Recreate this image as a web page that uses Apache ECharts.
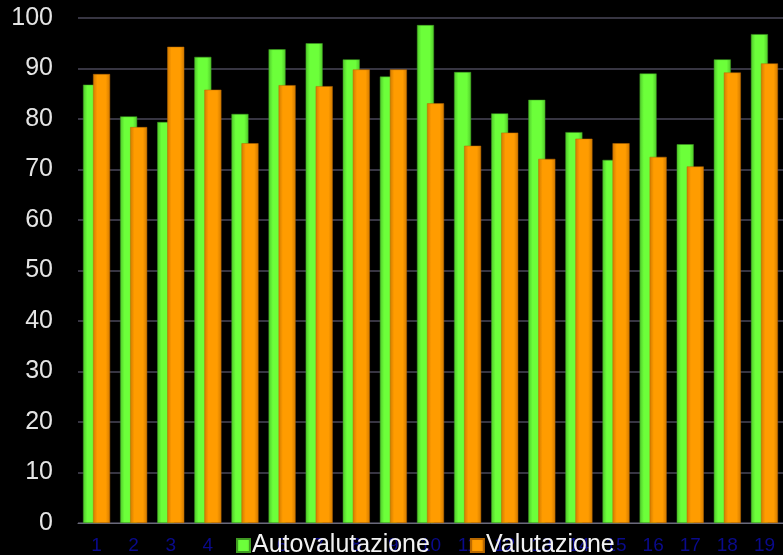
<!DOCTYPE html>
<html>
<head>
<meta charset="UTF-8">
<script src="https://cdn.jsdelivr.net/npm/echarts@6/dist/echarts.min.js"></script>
<style>
  html, body { margin: 0; padding: 0; background: #000; }
  #chart { width: 783px; height: 555px; }
</style>
</head>
<body>
<div id="chart"></div>
<script>
  // dati
  const categories = ['1','2','3','4','5','6','7','8','9','10','11','12','13','14','15','16','17','18','19'];
  const autovalutazione = [86.8, 80.5, 79.4, 92.3, 81.0, 93.8, 95.0, 91.8, 88.4, 98.6, 89.3, 81.1, 83.8, 77.4, 71.9, 89.0, 75.0, 91.8, 96.8];
  const valutazione = [88.9, 78.4, 94.3, 85.8, 75.2, 86.7, 86.5, 89.8, 89.8, 83.1, 74.7, 77.3, 72.1, 76.1, 75.2, 72.5, 70.6, 89.2, 91.0];
  const seriesNames = ['Autovalutazione', 'Valutazione'];

  function grad(edge, mid) {
    return new echarts.graphic.LinearGradient(0, 0, 1, 0, [
      { offset: 0, color: edge },
      { offset: 0.25, color: mid },
      { offset: 0.75, color: mid },
      { offset: 1, color: edge }
    ]);
  }

  const chart = echarts.init(document.getElementById('chart'));
  chart.setOption({
    backgroundColor: '#000',
    animation: false,
    textStyle: { fontFamily: 'Liberation Sans, Arial, sans-serif' },
    grid: { left: 78, right: -9, top: 18, bottom: 32 },
    legend: {
      data: seriesNames,
      left: 231,
      top: 528,
      itemWidth: 13,
      itemHeight: 13,
      itemGap: 40,
      icon: 'rect',
      textStyle: { color: '#f2f2f2', fontSize: 25, padding: [0, 0, 0, -3] }
    },
    xAxis: {
      type: 'category',
      data: categories,
      axisTick: { show: false },
      axisLine: { lineStyle: { color: '#6a6a7a', width: 1 } },
      axisLabel: { color: '#0a0a8c', fontSize: 19, margin: 13 }
    },
    yAxis: {
      type: 'value',
      min: 0,
      max: 100,
      interval: 10,
      axisLine: { show: false },
      axisTick: { show: false },
      axisLabel: { color: '#e4e4e4', fontSize: 25, margin: 25 },
      splitLine: { lineStyle: { color: '#4a4758', width: 1.5 } }
    },
    series: [
      {
        name: seriesNames[0],
        type: 'bar',
        data: autovalutazione,
        barWidth: 17,
        barGap: '-41%',
        itemStyle: { color: grad('#4fc82a', '#6cff3a'), borderColor: '#3f9a22', borderWidth: 0.5 }
      },
      {
        name: seriesNames[1],
        type: 'bar',
        data: valutazione,
        barWidth: 17,
        itemStyle: { color: grad('#d27a00', '#ff9c00'), borderColor: '#b86800', borderWidth: 0.5 }
      }
    ]
  });
</script>
</body>
</html>
